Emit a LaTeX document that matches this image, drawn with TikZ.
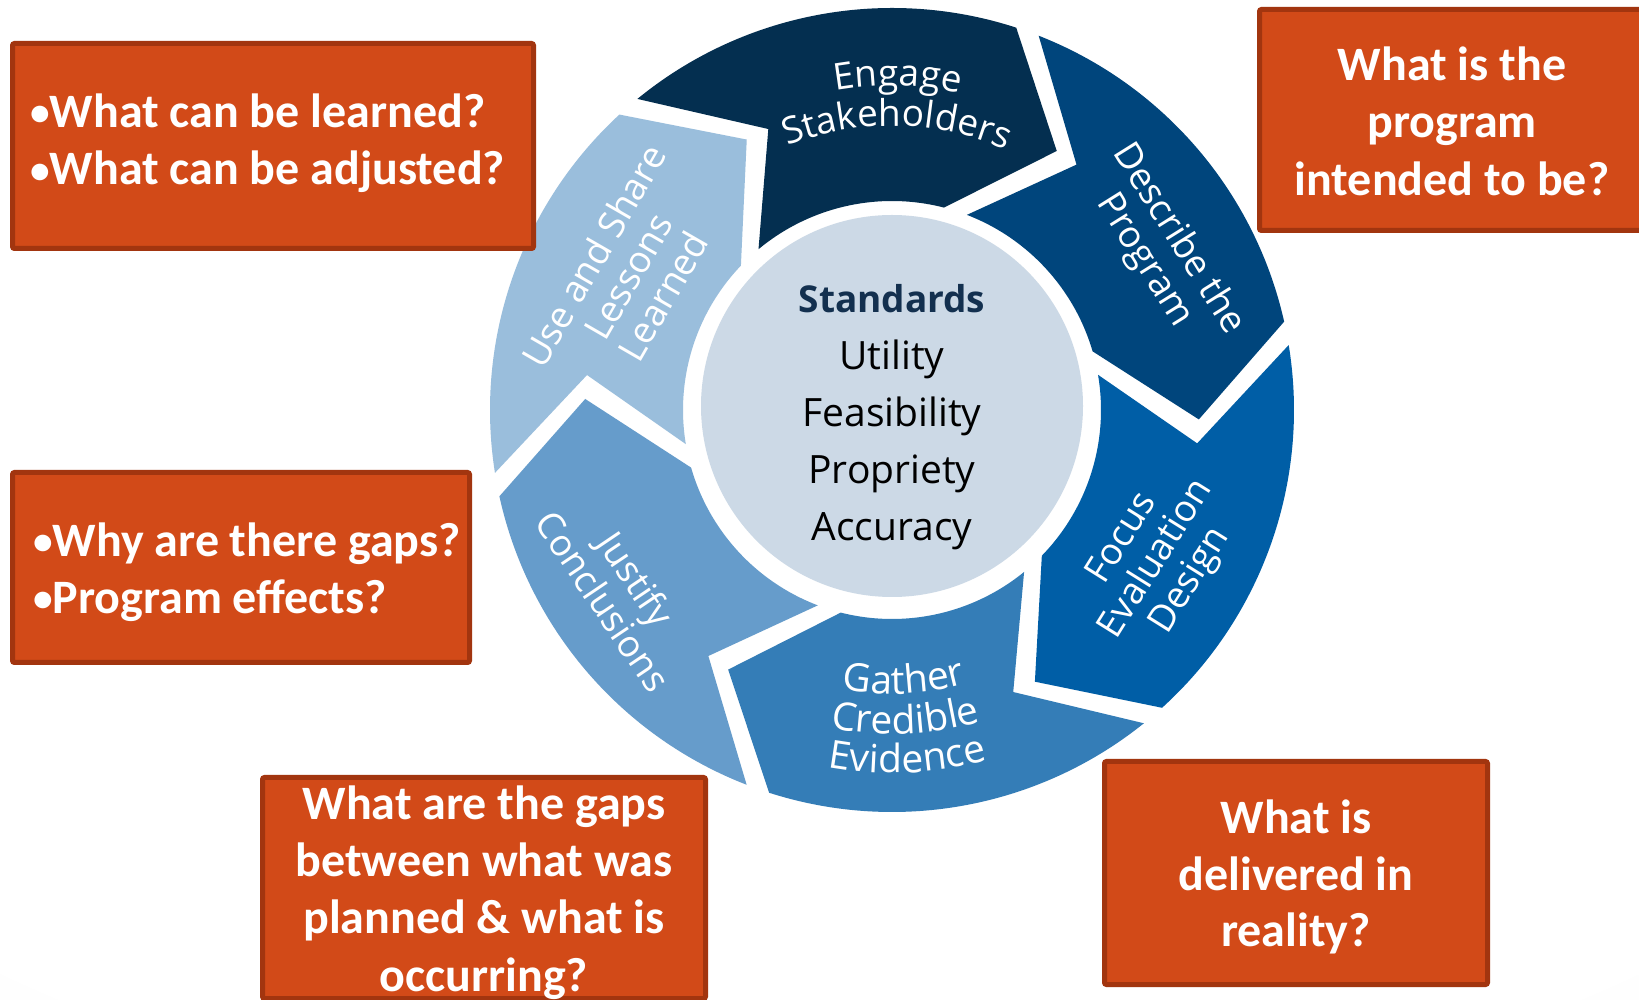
\documentclass[tikz,border=0pt]{standalone}
\usepackage{fontspec}
\usetikzlibrary{decorations.text}
\newfontfamily\boxfont{Carlito}
\newfontfamily\segfont{Open Sans}
\newcommand{\seglabelfont}{\segfont\fontsize{37}{40}\selectfont}
\newcommand{\gatherfont}{\segfont\fontsize{39}{40}\selectfont}
\newcommand{\qbullet}{\raisebox{1.5pt}{\scalebox{0.82}{\textbullet}}}

\definecolor{engblue}{HTML}{042F50}
\definecolor{descblue}{HTML}{00457C}
\definecolor{focblue}{HTML}{005EA6}
\definecolor{gathblue}{HTML}{347DB7}
\definecolor{justblue}{HTML}{669CCB}
\definecolor{useblue}{HTML}{9ABEDC}
\definecolor{stdfill}{HTML}{CCD9E6}
\definecolor{stdnavy}{HTML}{13304F}
\definecolor{boxfill}{HTML}{D24A18}
\definecolor{boxedge}{HTML}{A2350F}

\pgfdeclareradialshading{bgshade}{\pgfpoint{0bp}{20bp}}{color(0bp)=(white); color(40bp)=(white); color(72bp)=(black!7)}

\begin{document}
\begin{tikzpicture}[
  x=1pt, y=1pt,
  qbox/.style={draw=boxedge, line width=5pt, fill=boxfill, rounded corners=2pt, inner sep=0pt},
  qtext/.style={text=white, inner sep=0pt, font=\boxfont\bfseries\fontsize{48}{57.5}\selectfont},
  seglabel/.style={text=white, inner sep=0pt, align=center, font=\seglabelfont},
  segarc/.style={decorate, decoration={text along path, text align=center, text color=white}}
]
  \useasboundingbox (0,0) rectangle (1639,999);
  \shade[shading=bgshade] (0,0) rectangle (1639,999);

  % the six steps of the cycle
  \begin{scope}[shift={(892,589)}]
    \foreach \a/\b/\col in {190.7/131/useblue, 131/70.3/engblue, 70.3/11/descblue,
                            11/-49.5/focblue, -49.5/-109.5/gathblue, -109.5/-169.3/justblue}
      \fill[\col] (\a-1.7:402pt) arc[start angle=\a-1.7, end angle=\b+1.7, radius=402pt]
        -- (\b-12.76:307pt) -- (\b+5.3:209pt)
        arc[start angle=\b+5.3, end angle=\a-1.3, radius=209pt]
        -- (\a-17.24:307pt) -- cycle;
  \end{scope}

  \node[circle, fill=stdfill, minimum size=382pt, inner sep=0pt] (std) at (892,593) {};
  \node[align=center, inner sep=0pt, font=\segfont\fontsize{39}{56.9}\selectfont] (stdtext) at (892,582)
    {{\bfseries\color{stdnavy}\fontsize{37}{56.9}\selectfont Standards}\\Utility\\Feasibility\\Propriety\\Accuracy};

  % step labels
  \begin{scope}[shift={(892,589)}]
    \path[segarc, decoration={text={|\seglabelfont|Engage}}] (139:324pt) arc[start angle=139, end angle=39, radius=324pt];
    \path[segarc, decoration={text={|\seglabelfont|Stakeholders}}] (139:284pt) arc[start angle=139, end angle=39, radius=284pt];
    \path[segarc, decoration={text={|\gatherfont|Gather}}] (-137.5:284pt) arc[start angle=-137.5, end angle=-37.5, radius=284pt];
    \path[segarc, decoration={text={|\gatherfont|Credible}}] (-137.5:324pt) arc[start angle=-137.5, end angle=-37.5, radius=324pt];
    \path[segarc, decoration={text={|\gatherfont|Evidence}}] (-137.5:363pt) arc[start angle=-137.5, end angle=-37.5, radius=363pt];
  \end{scope}
  \node[seglabel, rotate=-58] (describe) at (1161,749) {Describe the\\Program};
  \node[seglabel, rotate=58] (focus) at (1157,439) {Focus\\Evaluation\\Design};
  \node[seglabel, rotate=-56] (justify) at (620,409) {Justify\\Conclusions};
  \node[seglabel, rotate=60] (useshare) at (628,723) {Use and Share\\Lessons\\Learned};

  % question boxes
  \node[qbox, minimum width=521pt, minimum height=205pt] (learn) at (273,853) {};
  \node[qtext, align=left, anchor=west] (learntext)
    at ([xshift=20pt, yshift=3pt]learn.west) {\qbullet What can be learned?\\\qbullet What can be adjusted?};

  \node[qbox, minimum width=385pt, minimum height=221pt] (intend) at (1452,879) {};
  \node[qtext, align=center] (intendtext) at ([yshift=-1pt]intend.center) {What is the\\program\\intended to be?};

  \node[qbox, minimum width=457pt, minimum height=190pt] (why) at (241,431.5) {};
  \node[qtext, align=left, anchor=west, font=\boxfont\bfseries\fontsize{48}{57}\selectfont] (whytext)
    at ([xshift=23pt, yshift=-4.5pt]why.west) {\qbullet Why are there gaps?\\\qbullet Program effects?};

  \node[qbox, minimum width=443pt, minimum height=221pt] (planned) at (484,111) {};
  \node[qtext, align=center, font=\boxfont\bfseries\fontsize{48}{57.3}\selectfont] (plannedtext)
    at ([yshift=-4.5pt]planned.center) {What are the gaps\\between what was\\planned \& what is\\occurring?};

  \node[qbox, minimum width=383pt, minimum height=223pt] (reality) at (1296,126) {};
  \node[qtext, align=center, font=\boxfont\bfseries\fontsize{48}{56.5}\selectfont] (realitytext)
    at ([yshift=-4pt]reality.center) {What is\\delivered in\\reality?};
\end{tikzpicture}
\end{document}
